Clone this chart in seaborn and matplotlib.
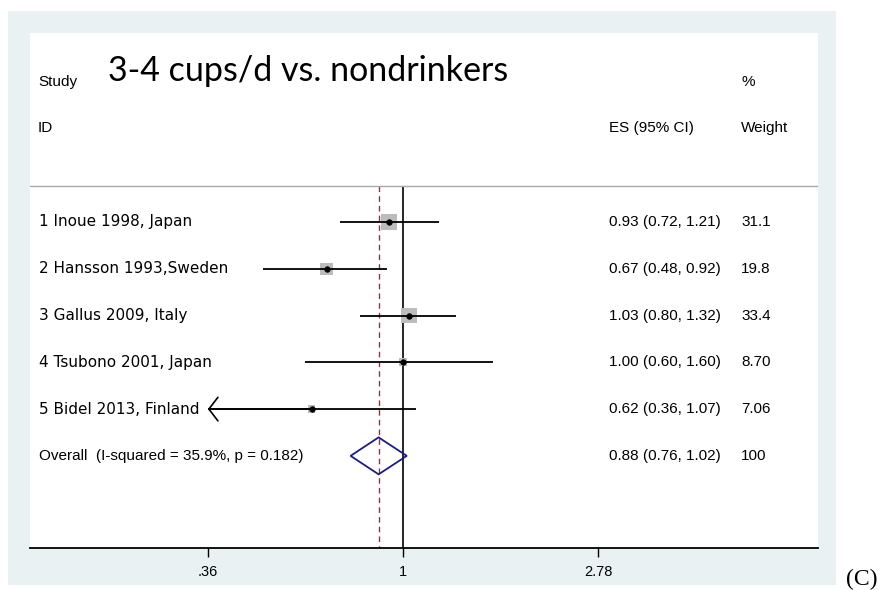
import pandas as pd
import matplotlib.pyplot as plt
import seaborn as sns
from matplotlib.patches import Rectangle, Polygon

# Study rows (effect size, 95% CI, % weight)
studies = ["1 Inoue 1998, Japan", "2 Hansson 1993,Sweden", "3 Gallus 2009, Italy",
           "4 Tsubono 2001, Japan", "5 Bidel 2013, Finland"]
es = [0.93, 0.67, 1.03, 1.00, 0.62]
lo = [0.72, 0.48, 0.80, 0.60, 0.36]
hi = [1.21, 0.92, 1.32, 1.60, 1.07]
weights = [31.1, 19.8, 33.4, 8.70, 7.06]
weight_labels = ["31.1", "19.8", "33.4", "8.70", "7.06"]

# Pooled estimate
overall_label = "Overall  (I-squared = 35.9%, p = 0.182)"
overall_es, overall_lo, overall_hi = 0.88, 0.76, 1.02
overall_weight = "100"

ticks = [0.36, 1, 2.78]
tick_labels = [".36", "1", "2.78"]
title = "3-4 cups/d vs. nondrinkers"

df = pd.DataFrame({"study": studies, "es": es, "lo": lo, "hi": hi, "weight": weights})
df["row"] = range(1, len(df) + 1)
overall_row = len(df) + 1

sns.set_theme(style="white")
plt.rcParams['font.family'] = ['Liberation Sans', 'DejaVu Sans']
plt.rcParams['text.color'] = 'black'

W, H = 882, 590
fig = plt.figure(figsize=(W / 100, H / 100), dpi=100)
fig.patch.set_facecolor("white")
# Stata-like graph region
fig.patches.append(Rectangle((8 / W, 5 / H), 828 / W, 574 / H, transform=fig.transFigure,
                             facecolor="#e9f1f3", edgecolor="none", zorder=-1))

ax = fig.add_axes([30 / W, 42 / H, 788 / W, 515 / H])
ax.set_facecolor("white")
ax.set_xscale("log")
ax.set_xlim(0.1419, 8.78)
y_bottom, y_top = 7.97, -3.04
ax.set_ylim(y_bottom, y_top)

# reference lines
line_top = 0.23
ax.vlines(1, line_top, y_bottom, color="black", lw=1.2, zorder=2)
ax.vlines(overall_es, line_top, y_bottom, color="#a82a3c", lw=1.0,
          linestyles=(0, (4, 3)), zorder=2)
ax.axhline(line_top, color="#a8a8a8", lw=1.0)

# CI lines
ax.hlines(df["row"], df["lo"], df["hi"], color="black", lw=1.3, zorder=3)
for _, r in df.iterrows():
    if r["lo"] <= ticks[0]:
        ax.annotate("", xy=(r["lo"], r["row"]), xytext=(r["es"], r["row"]),
                    arrowprops=dict(arrowstyle="->,head_length=0.65,head_width=0.85",
                                    lw=1.2, color="black", shrinkA=0, shrinkB=0,
                                    mutation_scale=10), zorder=3)

# weight squares + point estimates
sizes = {w: 3.9 * w for w in weights}
sns.scatterplot(data=df, x="es", y="row", size="weight", sizes=sizes, marker="s",
                color="#bcbcbc", edgecolor="none", legend=False, ax=ax, zorder=2)
sns.scatterplot(data=df, x="es", y="row", marker="o", s=16, color="black",
                edgecolor="black", linewidth=0.5, legend=False, ax=ax, zorder=4)

# pooled diamond
hh = 0.395
ax.add_patch(Polygon([(overall_lo, overall_row), (overall_es, overall_row - hh),
                      (overall_hi, overall_row), (overall_es, overall_row + hh)],
                     closed=True, facecolor="none", edgecolor="#1c1c84", lw=1.3, zorder=4))

# text columns
tx = ax.get_yaxis_transform()
x_name, x_head, x_es, x_w = 9 / 788, 8 / 788, 579 / 788, 711 / 788
ax.text(x_head, -2, "Study", transform=tx, fontsize=11, va="center")
ax.text(x_head, -1, "ID", transform=tx, fontsize=11, va="center")
ax.text(x_es, -1, "ES (95% CI)", transform=tx, fontsize=11, va="center")
ax.text(x_w, -2, "%", transform=tx, fontsize=11, va="center")
ax.text(x_w, -1, "Weight", transform=tx, fontsize=11, va="center")
ax.text(78 / 788, -2.22, title, transform=tx, fontsize=24.5, va="center", family="Lato")

for _, r in df.iterrows():
    ax.text(x_name, r["row"], r["study"], transform=tx, fontsize=11, va="center",
            family="DejaVu Sans")
    ax.text(x_es, r["row"], f"{r['es']:.2f} ({r['lo']:.2f}, {r['hi']:.2f})",
            transform=tx, fontsize=11, va="center")
for row, lab in zip(df["row"], weight_labels):
    ax.text(x_w, row, lab, transform=tx, fontsize=11, va="center")

ax.text(x_name, overall_row, overall_label, transform=tx, fontsize=11, va="center")
ax.text(x_es, overall_row, f"{overall_es:.2f} ({overall_lo:.2f}, {overall_hi:.2f})",
        transform=tx, fontsize=11, va="center")
ax.text(x_w, overall_row, overall_weight, transform=tx, fontsize=11, va="center")

# axes styling
for s in ["top", "left", "right"]:
    ax.spines[s].set_visible(False)
ax.spines["bottom"].set_color("black")
ax.spines["bottom"].set_linewidth(1.3)
ax.set_xticks(ticks)
ax.set_xticklabels(tick_labels)
ax.minorticks_off()
ax.set_yticks([])
ax.set_xlabel("")
ax.set_ylabel("")
ax.tick_params(axis="x", bottom=True, length=6.5, width=1, color="black", pad=6,
               labelsize=10.5, labelcolor="black")

fig.text(862 / W, 1 - 579 / H, "(C)", fontsize=17, family="Liberation Serif",
         ha="center", va="center")

fig.savefig("out.png", dpi=100)
